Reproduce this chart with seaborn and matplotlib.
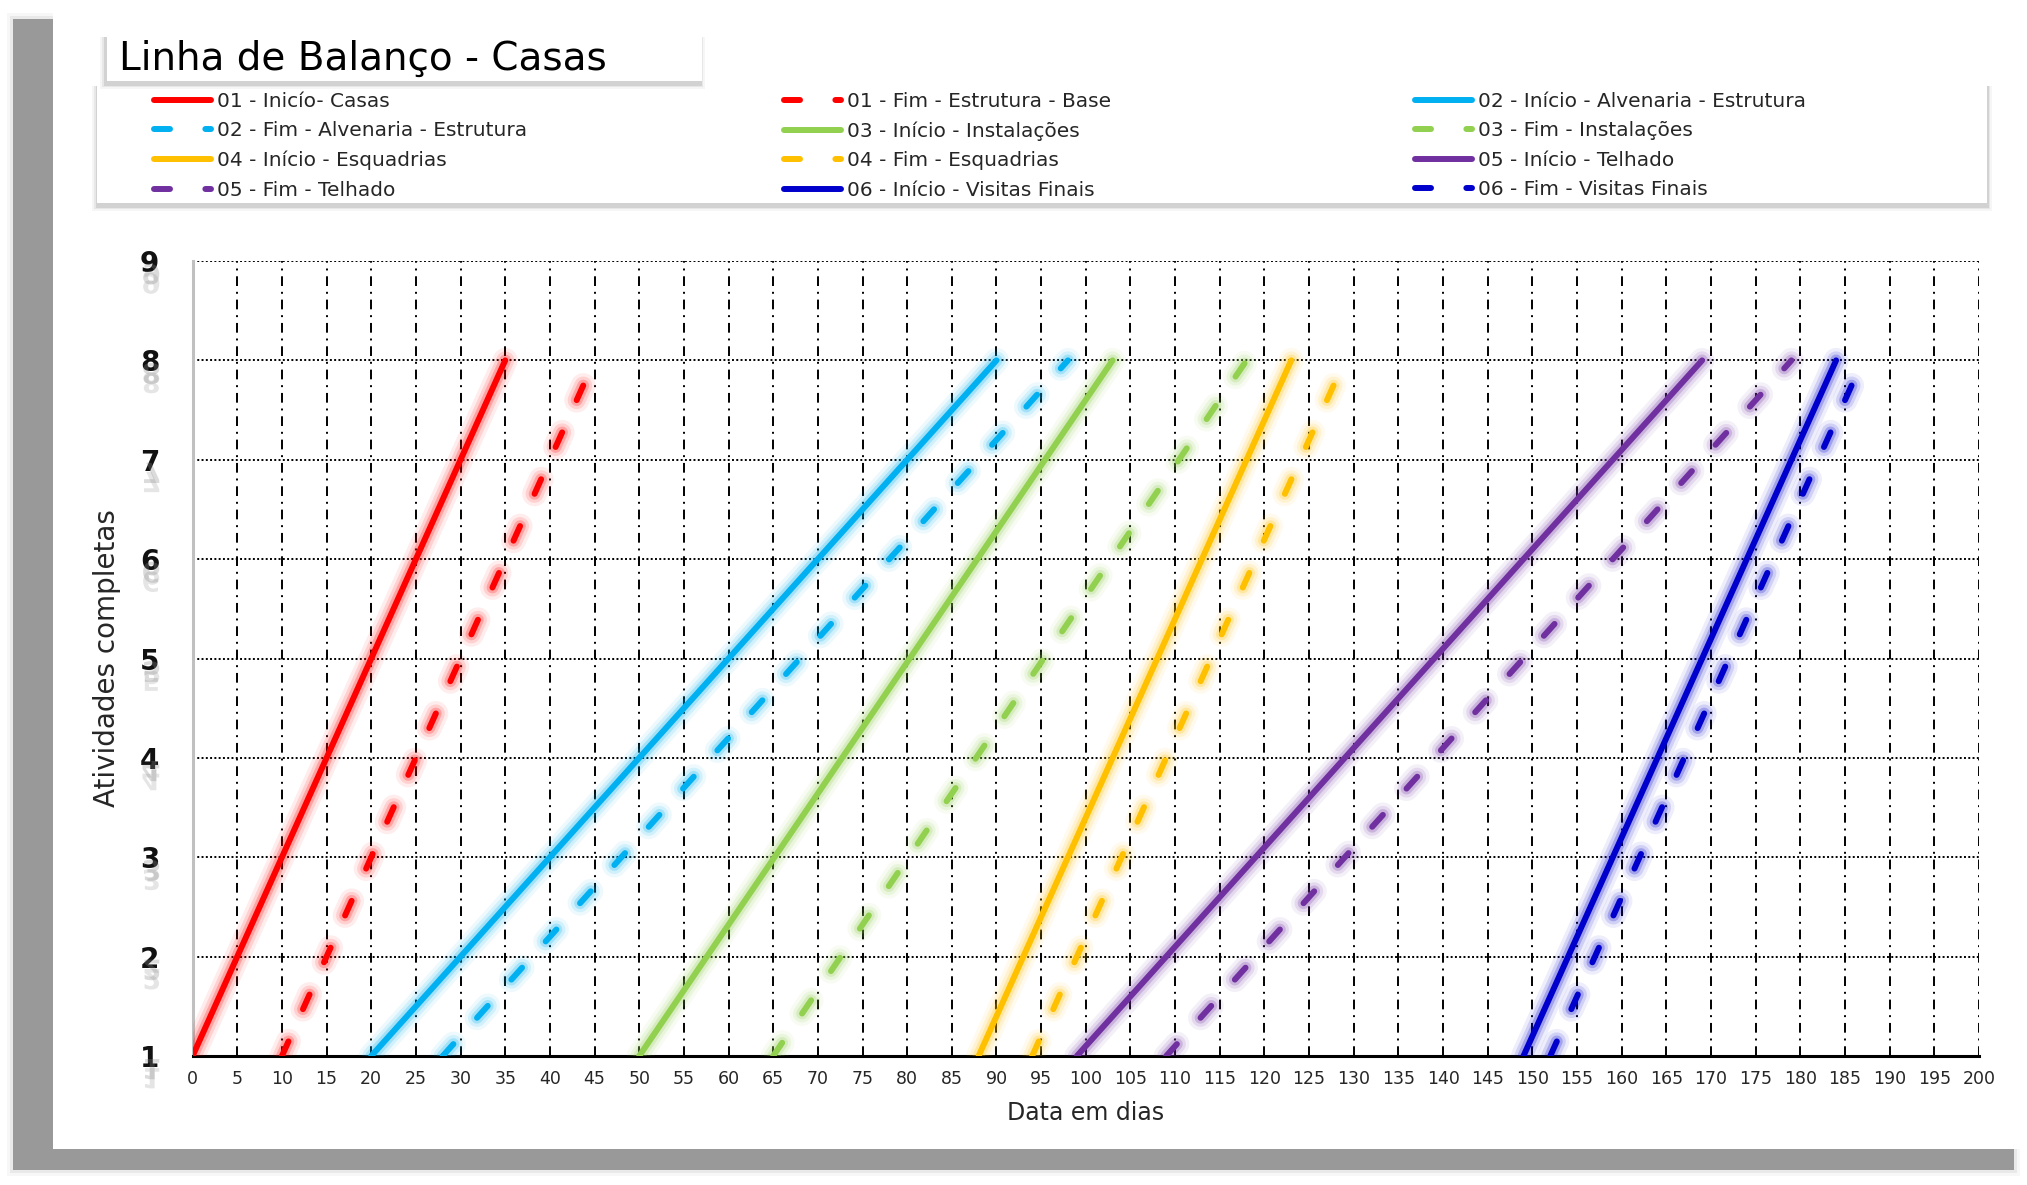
import matplotlib
matplotlib.use("Agg")
import pandas as pd
import matplotlib.pyplot as plt
import matplotlib.patheffects as pe
from matplotlib.lines import Line2D
from matplotlib.patches import Rectangle, PathPatch
from matplotlib.textpath import TextPath
from matplotlib.font_manager import FontProperties
from matplotlib.transforms import Affine2D
import seaborn as sns

# Linha de balanço: cada atividade vai da casa 1 (início) à casa 8 (fim)
atividades = [
    "01 - Inicío- Casas",
    "01 - Fim - Estrutura - Base",
    "02 - Início - Alvenaria - Estrutura",
    "02 - Fim - Alvenaria - Estrutura",
    "03 - Início - Instalações",
    "03 - Fim - Instalações",
    "04 - Início - Esquadrias",
    "04 - Fim - Esquadrias",
    "05 - Início - Telhado",
    "05 - Fim - Telhado",
    "06 - Início - Visitas Finais",
    "06 - Fim - Visitas Finais",
]
dia_inicial = [0, 10, 20, 28, 50, 65, 88, 94, 99, 109, 149, 152]
dia_final = [35, 45, 90, 98, 103, 118, 123, 129, 169, 179, 184, 187]
casa_inicial = [1] * 12
casa_final = [8] * 12
tipo = ["Início", "Fim"] * 6
cores = ["#FF0000", "#FF0000", "#00B0F0", "#00B0F0", "#92D050", "#92D050",
         "#FFC000", "#FFC000", "#7030A0", "#7030A0", "#0000CC", "#0000CC"]

x_ticks = list(range(0, 201, 5))
y_ticks = list(range(1, 10))

linhas = []
for nome, d0, d1, c0, c1 in zip(atividades, dia_inicial, dia_final, casa_inicial, casa_final):
    linhas.append({"atividade": nome, "dia": d0, "casas": c0})
    linhas.append({"atividade": nome, "dia": d1, "casas": c1})
df = pd.DataFrame(linhas)

sns.set_style("white")
plt.rcParams["font.family"] = ["DejaVu Sans"]

W, H, DPI = 2027, 1185, 100
fig = plt.figure(figsize=(W / DPI, H / DPI), dpi=DPI)
fig.patch.set_facecolor("white")


def caixa(x0, y0, x1, y1):
    # coordenadas em pixels (origem no topo) -> fração da figura
    return (x0 / W, 1 - y1 / H), (x1 - x0) / W, (y1 - y0) / H


def retangulo(x0, y0, x1, y1, **kw):
    xy, w, h = caixa(x0, y0, x1, y1)
    fig.patches.append(Rectangle(xy, w, h, transform=fig.transFigure, lw=0, **kw))


# moldura com sombra cinza
for k, a in [(6, 0.08), (3, 0.15)]:
    retangulo(13 - k, 19 - k, 2014 + k, 1170 + k, color="#999999", alpha=a, zorder=-12)
retangulo(13, 19, 2014, 1170, color="#999999", zorder=-11)
retangulo(53, 6, 2023, 1149, color="white", zorder=-10)

ax_x0, ax_x1, ax_top, ax_bot = 192.6, 1979, 261, 1056
ax = fig.add_axes([ax_x0 / W, 1 - ax_bot / H, (ax_x1 - ax_x0) / W, (ax_bot - ax_top) / H])
ax.set_facecolor("none")

tracejado = (0, (2.68, 5.92))


def brilho(cor):
    return [pe.Stroke(linewidth=18, foreground=cor, alpha=0.07),
            pe.Stroke(linewidth=13, foreground=cor, alpha=0.12),
            pe.Stroke(linewidth=8.5, foreground=cor, alpha=0.22),
            pe.Normal()]


for i, nome in enumerate(atividades):
    sub = df[df["atividade"] == nome]
    estilo = "-" if tipo[i] == "Início" else tracejado
    sns.lineplot(data=sub, x="dia", y="casas", ax=ax, color=cores[i], linewidth=4.3,
                 linestyle=estilo, solid_capstyle="round", dash_capstyle="round",
                 errorbar=None, legend=False, path_effects=brilho(cores[i]), zorder=3)

ax.set_xlim(0, 200)
ax.set_ylim(1, 9)
ax.set_xticks(x_ticks)
ax.set_yticks(y_ticks)
ax.set_axisbelow(True)
ax.xaxis.grid(True, color="black", linestyle=(0, (5, 3, 1, 3)), linewidth=1.4)
ax.yaxis.grid(True, color="black", linestyle=(0, (1, 1.2)), linewidth=1.4)

for lado in ["top", "right"]:
    ax.spines[lado].set_visible(False)
ax.spines["left"].set_color("#c0c0c0")
ax.spines["left"].set_linewidth(2.2)
ax.spines["bottom"].set_color("black")
ax.spines["bottom"].set_linewidth(2.2)

tam_y = 20
ax.tick_params(axis="x", length=0, pad=10, labelsize=12.5)
ax.tick_params(axis="y", length=0, pad=24, labelsize=tam_y)
for lab in ax.get_yticklabels():
    lab.set_fontweight("bold")
    lab.set_color("#111111")

# reflexo cinza sob os números do eixo y
fp = FontProperties(family="DejaVu Sans", weight="bold")
tam_px = tam_y * DPI / 72
x_dir = ax_x0 - 24 * DPI / 72
for v in y_ticks:
    tp = TextPath((0, 0), str(v), size=tam_px, prop=fp)
    bb = tp.get_extents()
    _, yv = ax.transData.transform((0, v))
    base = yv - 0.5 * bb.y1
    for frac, a in [(1.0, 0.22), (0.55, 0.3)]:
        tr = (Affine2D().translate(-bb.x1, -bb.y1 * (1 - frac))
              .scale(1, -1).translate(x_dir, base - 2))
        fig.add_artist(PathPatch(tp, transform=tr, facecolor="#8a8a8a", lw=0,
                                 alpha=a, zorder=1))

ax.set_xlabel("Data em dias", fontsize=17)
ax.xaxis.set_label_coords(0.5, -0.056)
ax.set_ylabel("Atividades completas", fontsize=20)
ax.yaxis.set_label_coords(-0.040, 0.5)

# caixa do título
for k, a in [(5, 0.06), (3, 0.10), (1.5, 0.16)]:
    retangulo(107 - 2 - k, 35 + 2, 702 - 2 + k, 81 + 3 + k, color="#666666", alpha=a, zorder=2)
retangulo(107, 35, 702, 81, color="white", zorder=2.5)
fig.text(119 / W, 1 - 59 / H, "Linha de Balanço - Casas", fontsize=28, ha="left",
         va="center", color="black", zorder=3)

# caixa da legenda
for k, a in [(5, 0.06), (3, 0.10), (1.5, 0.16)]:
    retangulo(97 - k, 84 + 2, 1987 + k, 203 + 3 + k, color="#666666", alpha=a, zorder=1)
retangulo(97, 84, 1987, 203, color="white", zorder=1.5)

handles = []
for i in range(len(atividades)):
    estilo = "-" if tipo[i] == "Início" else tracejado
    handles.append(Line2D([], [], color=cores[i], linewidth=4.3, linestyle=estilo,
                          solid_capstyle="round", dash_capstyle="round"))

col_x = [154, 784, 1415]
for c, x in enumerate(col_x):
    idx = list(range(c, len(atividades), 3))
    leg = fig.legend([handles[i] for i in idx], [atividades[i] for i in idx],
                     loc="upper left", bbox_to_anchor=(x / W, 1 - 92 / H),
                     bbox_transform=fig.transFigure, frameon=False, fontsize=14.5,
                     handlelength=2.85, handletextpad=0.3, labelspacing=0.52,
                     borderpad=0, borderaxespad=0)
    leg.set_zorder(4)

fig.savefig("out.png", dpi=DPI)
